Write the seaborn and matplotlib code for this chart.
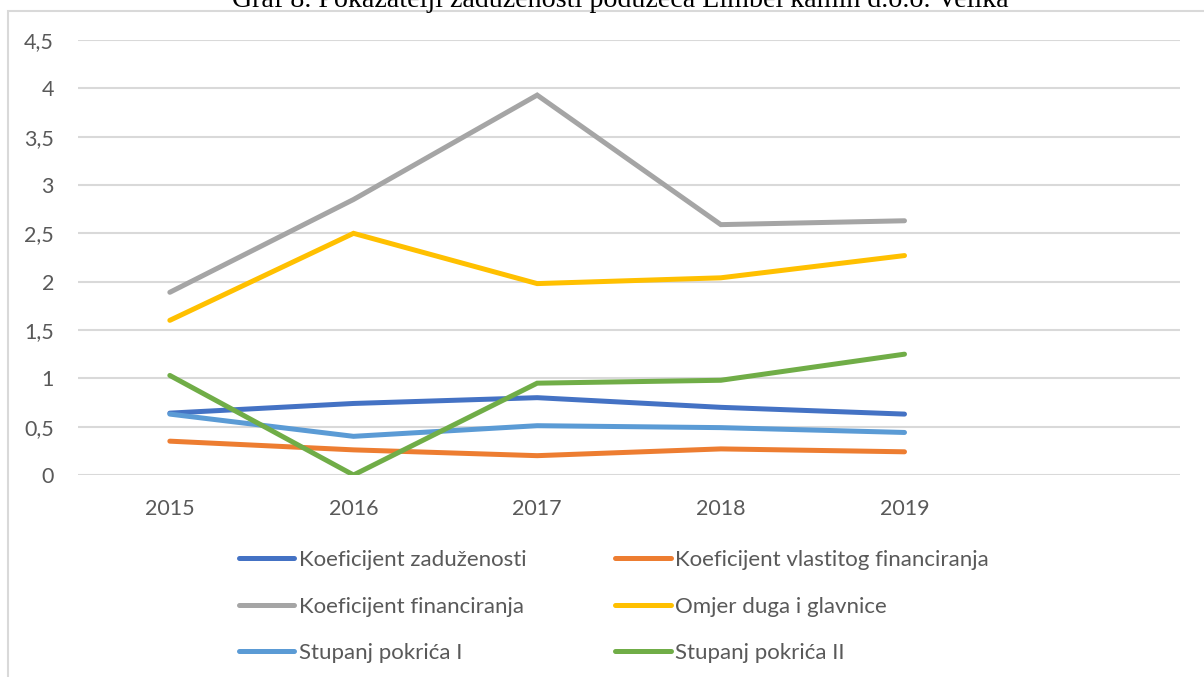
import matplotlib
matplotlib.use("Agg")
import matplotlib.pyplot as plt
import seaborn as sns
import pandas as pd
from matplotlib.patches import Rectangle
from matplotlib.lines import Line2D

years = ["2015", "2016", "2017", "2018", "2019"]
koef_zaduzenosti = [0.64, 0.74, 0.80, 0.70, 0.63]
koef_vlastitog = [0.35, 0.26, 0.20, 0.27, 0.24]
koef_financiranja = [1.89, 2.85, 3.93, 2.59, 2.63]
omjer_duga = [1.60, 2.50, 1.98, 2.04, 2.27]
stupanj_I = [0.63, 0.40, 0.51, 0.49, 0.44]
stupanj_II = [1.03, 0.00, 0.95, 0.98, 1.25]

series_names = ["Koeficijent zaduženosti", "Koeficijent vlastitog financiranja",
                "Koeficijent financiranja", "Omjer duga i glavnice",
                "Stupanj pokrića I", "Stupanj pokrića II"]
series_vals = [koef_zaduzenosti, koef_vlastitog, koef_financiranja, omjer_duga, stupanj_I, stupanj_II]
colors = ["#4472C4", "#ED7D31", "#A5A5A5", "#FFC000", "#5B9BD5", "#70AD47"]

rows = []
for name, vals in zip(series_names, series_vals):
    for i, v in enumerate(vals):
        rows.append({"x": i, "value": v, "series": name})
df = pd.DataFrame(rows)

sns.set_theme(style="white")
plt.rcParams["font.family"] = ["Lato", "DejaVu Sans"]

W, H = 1204, 677
fig = plt.figure(figsize=(W / 100, H / 100), dpi=100)
fig.patch.set_facecolor("white")

# chart border
fig.patches.append(Rectangle((8 / W, -0.1), 1.2, 1 - 11 / H + 0.1, transform=fig.transFigure,
                             fill=False, edgecolor="#d9d9d9", linewidth=1.5, zorder=0))

# clipped title
fig.text(620 / W, 1 - 7 / H, "Graf 8. Pokazatelji zaduženosti poduzeća Limbel kamin d.o.o. Velika",
         ha="center", va="baseline", fontsize=20.2, family="Liberation Serif", color="black")

ax = fig.add_axes([78 / W, 1 - 475 / H, (1180 - 78) / W, (475 - 40) / H])
ax.set_facecolor("none")

sns.lineplot(data=df, x="x", y="value", hue="series", palette=dict(zip(series_names, colors)),
             hue_order=series_names, linewidth=3.6, sort=False, ax=ax, legend=False,
             solid_capstyle="round", solid_joinstyle="miter")

ax.set_xlim(-0.5, 5.5)
ax.set_ylim(0, 4.5)
yt = [0, 0.5, 1, 1.5, 2, 2.5, 3, 3.5, 4, 4.5]
ax.set_yticks(yt)
ax.set_yticklabels([("%g" % t).replace(".", ",") for t in yt])
ax.set_xticks(range(len(years)))
ax.set_xticklabels(years)
ax.yaxis.grid(True, color="#d9d9d9", linewidth=1.5)
ax.set_axisbelow(True)
for s in ax.spines.values():
    s.set_visible(False)
ax.tick_params(axis="both", length=0, labelsize=15.5, labelcolor="#595959")
ax.tick_params(axis="y", pad=17.3)
ax.tick_params(axis="x", pad=17)
ax.set_xlabel("")
ax.set_ylabel("")

# legend filled row-wise like the reference
order = [0, 2, 4, 1, 3, 5]
handles = [Line2D([0], [0], color=colors[i], linewidth=3.6, solid_capstyle="round") for i in order]
labels = [series_names[i] for i in order]
leg = fig.legend(handles, labels, ncol=2, loc="upper left",
                 bbox_to_anchor=(230 / W, 1 - 541 / H), frameon=False,
                 fontsize=16, handlelength=2.5, handletextpad=0.2,
                 columnspacing=4.0, labelspacing=1.2, borderaxespad=0)
for t in leg.get_texts():
    t.set_color("#595959")

fig.savefig("out.png", dpi=100)
